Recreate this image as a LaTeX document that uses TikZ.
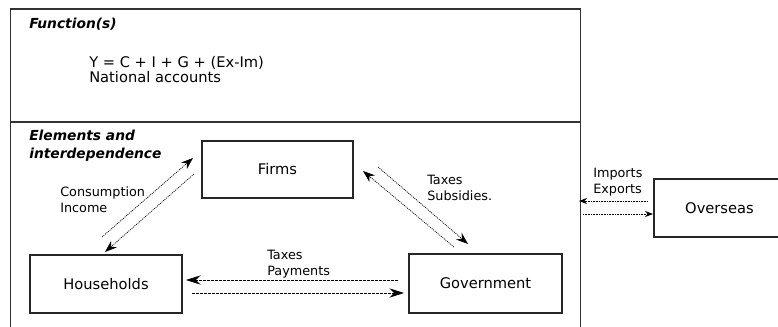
\documentclass[tikz,border=0pt]{standalone}
\usepackage{fontspec}
\setmainfont{DejaVu Sans}
\usetikzlibrary{arrows.meta}
\begin{document}
\begin{tikzpicture}[x=0.75pt,y=-0.75pt,
  frame/.style={draw=black!80,line width=0.9pt},
  box/.style={draw=black!85,line width=0.8pt,inner sep=0pt,align=center,font=\fontsize{11}{13}\selectfont},
  lbl/.style={anchor=west,align=left,inner sep=0pt,font=\fontsize{9.6}{12}\selectfont},
  ttl/.style={anchor=west,align=left,inner sep=0pt,font=\fontsize{10.35}{13.5}\selectfont\bfseries\itshape},
  bigarr/.style={-{Stealth[length=11pt,width=7pt]},dash pattern=on 2pt off 1pt,line width=0.6pt},
  diagarr/.style={-{Stealth[length=9pt,width=6.5pt]},dash pattern=on 0.75pt off 0.75pt,line width=0.55pt},
  smallarr/.style={-{Stealth[length=6pt,width=4.5pt]},dash pattern=on 0.7pt off 0.5pt,line width=0.6pt}]
\useasboundingbox (0,0) rectangle (778,327);
% outer frame
\draw[frame] (10.5,330) -- (10.5,9) -- (580.5,9) -- (580.5,330);
\draw[frame] (10.5,122) -- (580.5,122);
% titles and function text
\node[ttl] (fn) at (29,24) {Function(s)};
\node[anchor=west,align=left,inner sep=0pt,font=\fontsize{11}{11.25}\selectfont] (eq) at (89,69.5) {Y = C + I + G + (Ex-Im)\\National accounts};
\node[ttl] (el) at (29,146) {Elements and\\interdependence};
% boxes
\node[box,minimum width=113.25pt,minimum height=42.75pt] (firms) at (277.5,169.5) {Firms};
\node[box,minimum width=114pt,minimum height=43.5pt] (hh) at (106,284) {Households};
\node[box,minimum width=114.75pt,minimum height=44.25pt] (gov) at (485.5,283.5) {Government};
\node[box,minimum width=98.25pt,minimum height=43.5pt] (over) at (719.5,208) {Overseas};
% labels
\node[lbl] (ci) at (60,200) {Consumption\\Income};
\node[lbl] (tp) at (267,264) {Taxes\\Payments};
\node[lbl] (ts) at (427,188) {Taxes\\Subsidies.};
\node[lbl] (ie) at (593,182) {Imports\\Exports};
% connector end points
\coordinate (c1s) at (102,237); \coordinate (c1e) at (193,158);
\coordinate (c2s) at (194,174); \coordinate (c2e) at (105,252);
\coordinate (c3s) at (378,167); \coordinate (c3e) at (468,244);
\coordinate (c4s) at (454,247); \coordinate (c4e) at (363,171);
\coordinate (c5s) at (398,280); \coordinate (c5e) at (186,280);
\coordinate (c6s) at (192,293); \coordinate (c6e) at (404,293);
\coordinate (c7s) at (648,201); \coordinate (c7e) at (579,201);
\coordinate (c8s) at (583,214); \coordinate (c8e) at (653,214);
% connectors
\draw[diagarr] (c1s) -- (c1e);
\draw[diagarr] (c2s) -- (c2e);
\draw[diagarr] (c3s) -- (c3e);
\draw[diagarr] (c4s) -- (c4e);
\draw[bigarr] (c5s) -- (c5e);
\draw[bigarr] (c6s) -- (c6e);
\draw[smallarr] (c7s) -- (c7e);
\draw[smallarr] (c8s) -- (c8e);
\end{tikzpicture}
\end{document}
